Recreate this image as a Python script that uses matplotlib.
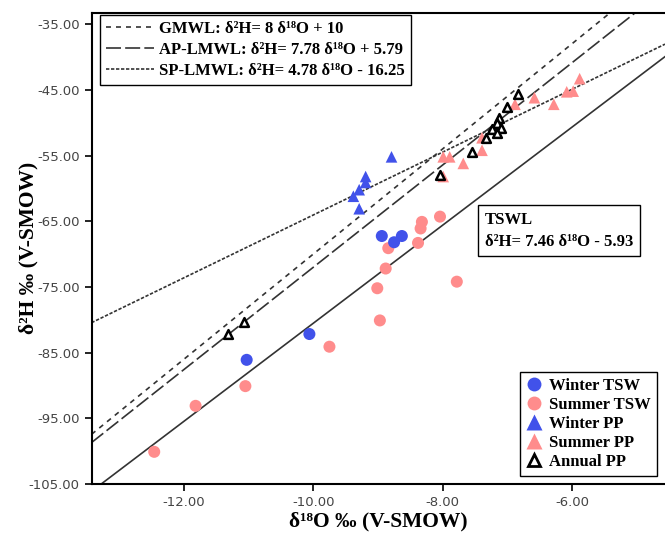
import matplotlib
matplotlib.use('Agg')
import matplotlib.pyplot as plt
from matplotlib.lines import Line2D
import numpy as np

# isotope data (d18O, d2H)
winter_tsw_x = [-8.94, -8.75, -8.63, -11.03, -10.06]
winter_tsw_y = [-67.25, -68.2, -67.25, -86.1, -82.17]

summer_tsw_x = [-12.46, -11.82, -11.05, -9.75, -9.01, -8.97, -8.88, -8.84, -8.38, -8.34, -8.32, -8.04, -7.78]
summer_tsw_y = [-100.1, -93.1, -90.1, -84.1, -75.2, -80.1, -72.2, -69.1, -68.3, -66.1, -65.1, -64.3, -74.2]

winter_pp_x = [-8.79, -9.19, -9.19, -9.29, -9.38, -9.29]
winter_pp_y = [-55.2, -58.2, -59.1, -60.2, -61.2, -63.1]

summer_pp_x = [-5.88, -6.08, -5.98, -6.28, -6.58, -6.88, -7.39, -7.39, -7.68, -7.99, -7.89, -7.99]
summer_pp_y = [-43.3, -45.3, -45.2, -47.2, -46.2, -47.2, -52.3, -54.2, -56.2, -55.2, -55.2, -58.2]

annual_pp_x = [-6.84, -7.01, -7.13, -7.16, -7.10, -7.23, -7.16, -7.33, -7.55, -8.04, -11.32, -11.07]
annual_pp_y = [-45.7, -47.6, -49.3, -50.1, -50.8, -51.0, -51.5, -52.4, -54.5, -58.0, -82.2, -80.3]

# regression lines: slope, intercept
gmwl = (8.0, 10.0)
ap_lmwl = (7.78, 5.79)
sp_lmwl = (4.78, -16.25)
tswl = (7.46, -5.93)

line_labels = ['GMWL: δ²H= 8 δ¹⁸O + 10',
               'AP-LMWL: δ²H= 7.78 δ¹⁸O + 5.79',
               'SP-LMWL: δ²H= 4.78 δ¹⁸O - 16.25']

yticks = [-105, -95, -85, -75, -65, -55, -45, -35]
xticks = [-12, -10, -8, -6]

BLUE = '#4152ea'
PINK = '#ff8c8c'
LINEC = '#333333'
serif = ['Liberation Serif', 'DejaVu Serif']

fig = plt.figure(figsize=(6.65, 5.34), dpi=100)
ax = fig.add_axes([0.1376, 0.0936, 0.8624, 0.8826])

xlim = (-13.43, -4.56)
xx = np.array(xlim)

l1, = ax.plot(xx, gmwl[0] * xx + gmwl[1], color=LINEC, lw=1.2, dashes=(3, 3))
l2, = ax.plot(xx, ap_lmwl[0] * xx + ap_lmwl[1], color=LINEC, lw=1.2, dashes=(9, 2.5))
l3, = ax.plot(xx, sp_lmwl[0] * xx + sp_lmwl[1], color=LINEC, lw=1.2, dashes=(2, 1))
ax.plot(xx, tswl[0] * xx + tswl[1], color=LINEC, lw=1.2)

ms = 75
ax.scatter(summer_tsw_x, summer_tsw_y, s=ms, color=PINK, edgecolors='none', zorder=3)
ax.scatter(winter_tsw_x, winter_tsw_y, s=ms, color=BLUE, edgecolors='none', zorder=3)
ax.scatter(winter_pp_x, winter_pp_y, s=70, marker='^', color=BLUE, edgecolors='none', zorder=3)
ax.scatter(summer_pp_x, summer_pp_y, s=70, marker='^', color=PINK, edgecolors='none', zorder=3)
ax.scatter(annual_pp_x, annual_pp_y, s=40, marker='^', facecolors='white', edgecolors='black',
           linewidths=1.8, zorder=4)

ax.set_xlim(*xlim)
ax.set_ylim(-105, -33.26)
ax.set_xticks(xticks)
ax.set_xticklabels(['%.2f' % v for v in xticks])
ax.set_yticks(yticks)
ax.set_yticklabels(['%.2f' % v for v in yticks])
ax.tick_params(labelsize=9.5, labelcolor='#444444', length=5, width=1.2, direction='out')
for sp in ['left', 'bottom', 'top']:
    ax.spines[sp].set_linewidth(1.5)
ax.spines['right'].set_visible(False)

ax.set_xlabel('δ¹⁸O ‰ (V-SMOW)', family=serif, fontweight='bold', fontsize=15.5, labelpad=2)
ax.set_ylabel('δ²H ‰ (V-SMOW)', family=serif, fontweight='bold', fontsize=15.5)
ax.yaxis.set_label_coords(-0.092, 0.5)

leg1 = ax.legend([l1, l2, l3], line_labels, loc='upper left', bbox_to_anchor=(0.015, 0.995),
                 borderaxespad=0, fancybox=False, edgecolor='black', framealpha=1,
                 handlelength=2.9, handletextpad=0.3, labelspacing=0.3, borderpad=0.35,
                 prop={'family': serif, 'weight': 'bold', 'size': 12})
leg1.get_frame().set_linewidth(1.0)
ax.add_artist(leg1)

handles = [
    Line2D([], [], ls='none', marker='o', ms=10, color=BLUE, mec='none'),
    Line2D([], [], ls='none', marker='o', ms=10, color=PINK, mec='none'),
    Line2D([], [], ls='none', marker='^', ms=11, color=BLUE, mec='none'),
    Line2D([], [], ls='none', marker='^', ms=11, color=PINK, mec='none'),
    Line2D([], [], ls='none', marker='^', ms=8, mfc='white', mec='black', mew=2),
]
names = ['Winter TSW', 'Summer TSW', 'Winter PP', 'Summer PP', 'Annual PP']
leg2 = ax.legend(handles, names, loc='lower right', bbox_to_anchor=(0.986, 0.017),
                 borderaxespad=0, fancybox=False, edgecolor='black', framealpha=1,
                 handlelength=1.0, handletextpad=0.4, labelspacing=0.18, borderpad=0.35,
                 prop={'family': serif, 'weight': 'bold', 'size': 12})
leg2.get_frame().set_linewidth(1.0)

ax.text(0.686, 0.578, 'TSWL\nδ²H= 7.46 δ¹⁸O - 5.93', transform=ax.transAxes, va='top', ha='left',
        family=serif, fontweight='bold', fontsize=12, linespacing=1.5,
        bbox=dict(boxstyle='square,pad=0.4', fc='white', ec='black', lw=1.0))

fig.savefig('out.png', dpi=100)
